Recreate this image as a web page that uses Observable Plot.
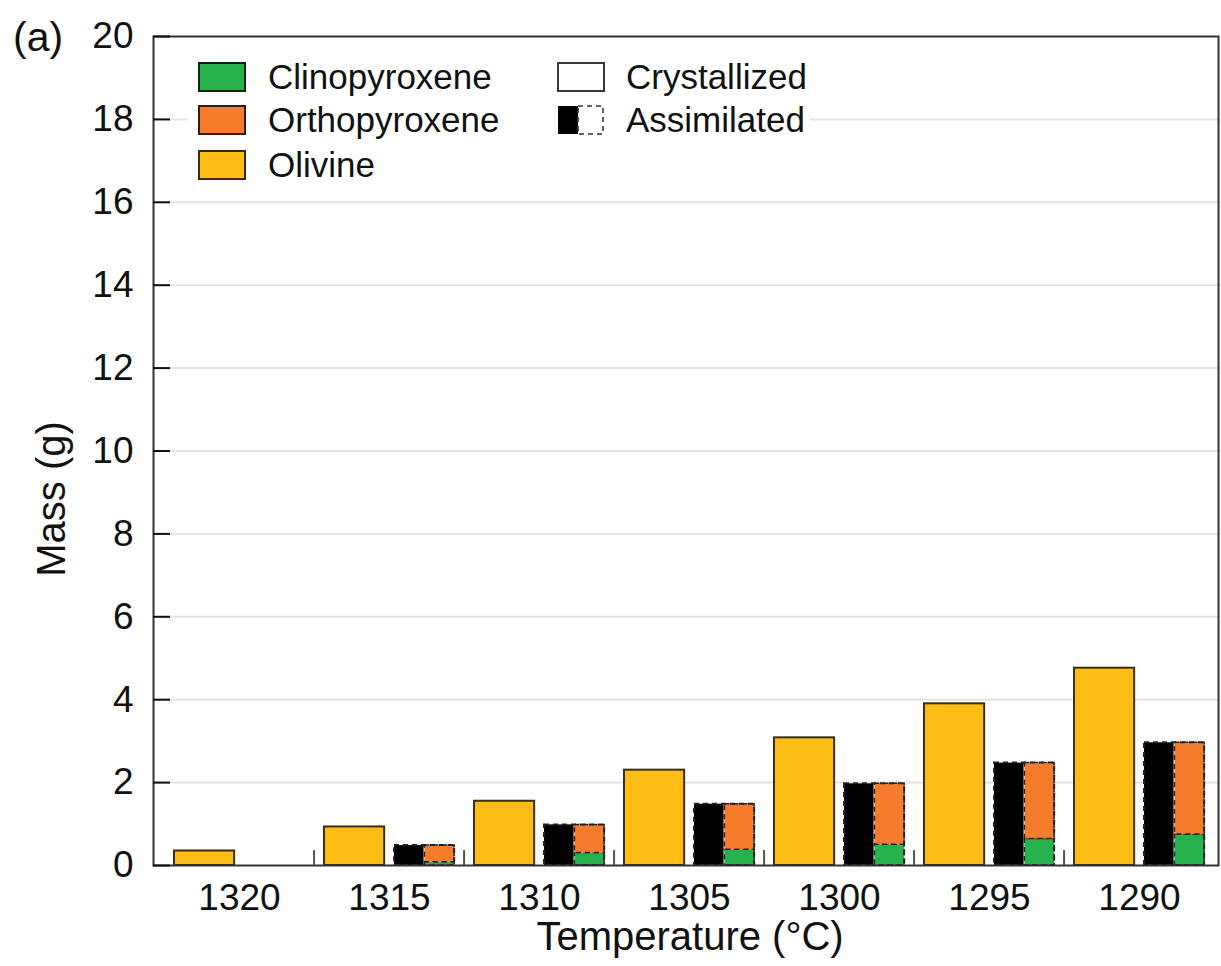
<!DOCTYPE html>
<html><head><meta charset="utf-8">
<script src="https://cdn.jsdelivr.net/npm/d3@7"></script>
<script src="https://cdn.jsdelivr.net/npm/@observablehq/plot@0.6"></script>
<style>
html,body{margin:0;padding:0;background:#fff;}
#wrap{position:relative;width:1221px;height:966px;font-family:"Liberation Sans",Arial,sans-serif;color:#111;}
#legendbg{position:absolute;left:188px;top:48px;width:622px;height:145px;background:#fff;}
.leg{position:absolute;display:flex;align-items:center;height:30px;font-size:35px;white-space:nowrap;}
.sw{box-sizing:border-box;width:48px;height:30px;border:2px solid rgba(0,0,0,0.78);margin-right:22px;flex:none;}
#panel{position:absolute;left:13px;top:17px;font-size:41px;line-height:41px;}
</style></head><body>
<div id="wrap"><div id="chart"></div></div>
<script>
// ---- data ----
const temperatures = [1320, 1315, 1310, 1305, 1300, 1295, 1290];
const olivineCrystallized = [0.35, 0.93, 1.55, 2.3, 3.08, 3.9, 4.76];
const assimilatedTotal = [0, 0.48, 0.98, 1.48, 1.97, 2.47, 2.96];
const clinopyroxeneAssimilated = [0, 0.08, 0.3, 0.38, 0.5, 0.64, 0.75];
const orthopyroxeneAssimilated = [0, 0.40, 0.68, 1.10, 1.47, 1.83, 2.21];
const minerals = ["Clinopyroxene", "Orthopyroxene", "Olivine"];
const mineralColors = ["#27b24e", "#f47c2c", "#fdbd14"];
const modes = ["Crystallized", "Assimilated"];
const yTicks = [0, 2, 4, 6, 8, 10, 12, 14, 16, 18, 20];

// ---- tables ----
const crystallized = temperatures.map((t, i) => ({temperature: t, mineral: "Olivine", mass: olivineCrystallized[i]}));
const assimilated = temperatures.map((t, i) => ({temperature: t, mass: assimilatedTotal[i]})).filter(d => d.mass > 0);
const assimilatedMinerals = temperatures.flatMap((t, i) => [
  {temperature: t, mineral: "Clinopyroxene", mass: clinopyroxeneAssimilated[i]},
  {temperature: t, mineral: "Orthopyroxene", mass: orthopyroxeneAssimilated[i]}
]).filter(d => d.mass > 0);

const W = 1221, H = 966, ML = 153, MR = 3, MT = 36, MB = 101, XIL = 8, XIR = 1;
const band = (W - ML - MR - XIL - XIR) / temperatures.length;
const font = '"Liberation Sans", Arial, sans-serif';

const chart = Plot.plot({
  width: W, height: H,
  marginLeft: ML, marginRight: MR, marginTop: MT, marginBottom: MB,
  style: {fontFamily: font, fontSize: "37px", color: "#111", background: "transparent", overflow: "visible"},
  x: {type: "band", domain: temperatures, paddingInner: 0, paddingOuter: 0, insetLeft: XIL, insetRight: XIR, label: null},
  y: {domain: [0, 20], label: null},
  color: {domain: minerals, range: mineralColors},
  marks: [
    Plot.gridY(yTicks.slice(1, -1), {stroke: "#e4e4e4", strokeOpacity: 1, strokeWidth: 2}),
    Plot.barY(crystallized, {x: "temperature", y: "mass", fill: "mineral", stroke: "#3b2f10", strokeWidth: 2, insetLeft: 10, insetRight: band - 71}),
    Plot.barY(assimilated, {x: "temperature", y: "mass", fill: "#000", insetLeft: 80, insetRight: band - 110.4}),
    Plot.barY(assimilatedMinerals, {x: "temperature", y: "mass", fill: "mineral", stroke: "#222", strokeWidth: 1.5, strokeDasharray: "5,4", insetLeft: 110.4, insetRight: band - 141}),
    Plot.barY(assimilated, {x: "temperature", y: "mass", fill: "none", stroke: "#222", strokeWidth: 2, strokeDasharray: "5,4", insetLeft: 80, insetRight: band - 141}),
    Plot.ruleX(temperatures.slice(1), {x: d => d, y1: 0, y2: 0.36, dx: -band / 2, stroke: "#555", strokeWidth: 2}),
    Plot.frame({stroke: "#333", strokeWidth: 2}),
    Plot.axisY(yTicks, {anchor: "left", tickSize: -17, tickPadding: 37, strokeWidth: 2, fontSize: 37}),
    Plot.axisX({anchor: "bottom", tickSize: 0, tickPadding: 18, fontSize: 37, tickFormat: d => String(d)}),
    Plot.text(["Mass (g)"], {frameAnchor: "left", rotate: -90, textAnchor: "middle", lineAnchor: "middle", dx: -101, dy: 48, fontSize: 40, fill: "#111"}),
    Plot.text(["Temperature (°C)"], {frameAnchor: "bottom", textAnchor: "middle", lineAnchor: "middle", dx: 4, dy: 72, fontSize: 40, fill: "#111"})
  ]
});
const wrap = document.getElementById("wrap");
document.getElementById("chart").appendChild(chart);

// ---- legend (overlay inside the frame) ----
const bg = document.createElement("div"); bg.id = "legendbg"; wrap.appendChild(bg);
const panel = document.createElement("div"); panel.id = "panel"; panel.textContent = "(a)"; wrap.appendChild(panel);
const rowTops = [62, 105, 150];
minerals.forEach((m, i) => {
  const it = document.createElement("div"); it.className = "leg";
  it.style.left = "198px"; it.style.top = rowTops[i] + "px";
  const sw = document.createElement("div"); sw.className = "sw"; sw.style.background = mineralColors[i];
  it.appendChild(sw); it.appendChild(document.createTextNode(m)); wrap.appendChild(it);
});
modes.forEach((m, i) => {
  const it = document.createElement("div"); it.className = "leg";
  it.style.left = "557px"; it.style.top = rowTops[i] + "px";
  let sw;
  if (i === 0) {
    sw = document.createElement("div"); sw.className = "sw"; sw.style.background = "#fff"; sw.style.marginRight = "21px";
  } else {
    sw = document.createElementNS("http://www.w3.org/2000/svg", "svg");
    sw.setAttribute("width", 48); sw.setAttribute("height", 30);
    sw.style.marginRight = "21px"; sw.style.flex = "none";
    sw.innerHTML = '<rect x="1" y="1" width="20" height="28" fill="#000"/>' +
      '<rect x="21" y="1" width="25" height="28" fill="#fff" stroke="#333" stroke-width="1.5" stroke-dasharray="5,4"/>';
  }
  it.appendChild(sw); it.appendChild(document.createTextNode(m)); wrap.appendChild(it);
});
</script>
</body></html>
